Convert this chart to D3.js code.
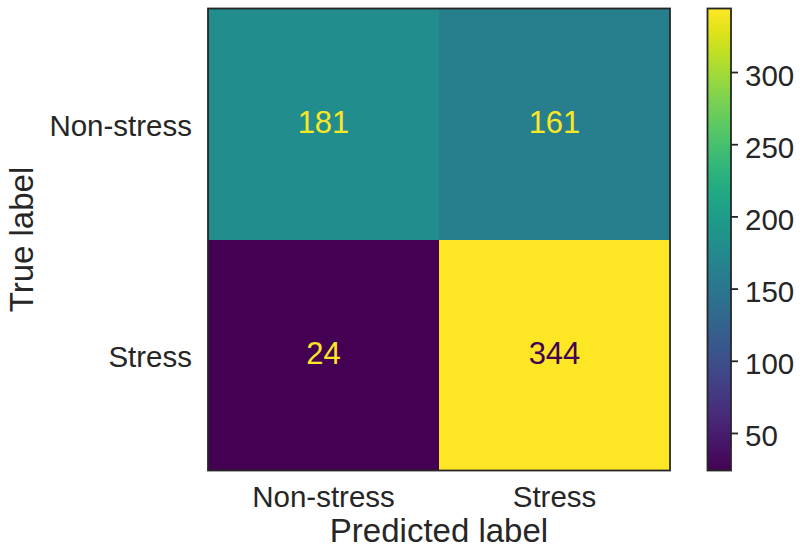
<!DOCTYPE html>
<html>
<head>
<meta charset="utf-8">
<script src="https://cdn.jsdelivr.net/npm/d3@7"></script>
<style>
  html, body { margin: 0; padding: 0; background: #fff; }
  svg { display: block; }
  text { font-family: "Liberation Sans", Arial, sans-serif; fill: #262626; }
</style>
</head>
<body>
<svg id="chart" width="805" height="559"></svg>
<script>
// ---- data ----
const trueLabels = ["Non-stress", "Stress"];
const predLabels = ["Non-stress", "Stress"];
const row0 = [181, 161];
const row1 = [24, 344];
const matrix = [row0, row1];
const colorTicks = [50, 100, 150, 200, 250, 300];
const xTitle = "Predicted label";
const yTitle = "True label";

// ---- layout ----
const svg = d3.select("#chart");
const hm = { x0: 208, x1: 670, y0: 8.5, y1: 470.5 };
const cb = { x0: 707.5, x1: 731, y0: 8.5, y1: 470.5 };
const ink = "#262626";
const ff = '"Liberation Sans", Arial, sans-serif';

const flat = matrix.flat();
const vmin = d3.min(flat), vmax = d3.max(flat);
const color = d3.scaleSequential(d3.interpolateViridis).domain([vmin, vmax]);

const x = d3.scaleBand().domain(predLabels).range([hm.x0, hm.x1]);
const y = d3.scaleBand().domain(trueLabels).range([hm.y0, hm.y1]);

const cells = [];
matrix.forEach((row, i) => row.forEach((v, j) => cells.push({ t: trueLabels[i], p: predLabels[j], v })));

const g = svg.append("g");
g.selectAll("rect.cell").data(cells).enter().append("rect")
  .attr("class", "cell")
  .attr("x", d => x(d.p)).attr("y", d => y(d.t))
  .attr("width", x.bandwidth()).attr("height", y.bandwidth())
  .attr("fill", d => color(d.v))
  .attr("shape-rendering", "crispEdges");

const thresh = (vmin + vmax) / 2;
g.selectAll("text.val").data(cells).enter().append("text")
  .attr("class", "val")
  .attr("x", d => x(d.p) + x.bandwidth() / 2)
  .attr("y", d => y(d.t) + y.bandwidth() / 2)
  .attr("text-anchor", "middle")
  .attr("dy", "0.3em")
  .style("font-size", "31px")
  .style("fill", d => d.v < thresh ? color(vmax) : color(vmin))
  .text(d => d.v);

// frame
g.append("rect")
  .attr("x", hm.x0).attr("y", hm.y0)
  .attr("width", hm.x1 - hm.x0).attr("height", hm.y1 - hm.y0)
  .attr("fill", "none").attr("stroke", ink).attr("stroke-width", 1.8);

// axes
const xAxis = d3.axisBottom(x).tickSize(0).tickPadding(16);
const gx = svg.append("g").attr("transform", `translate(0,${hm.y1})`).call(xAxis);
gx.select(".domain").remove();
gx.selectAll("text").style("font-size", "29.5px").attr("fill", ink).style("font-family", ff);

const yAxis = d3.axisLeft(y).tickSize(0).tickPadding(16);
const gy = svg.append("g").attr("transform", `translate(${hm.x0},0)`).call(yAxis);
gy.select(".domain").remove();
gy.selectAll("text").style("font-size", "29.5px").attr("fill", ink).attr("dy", "0.42em").style("font-family", ff);

svg.append("text")
  .attr("x", (hm.x0 + hm.x1) / 2).attr("y", 541.5)
  .attr("text-anchor", "middle").style("font-size", "33px")
  .text(xTitle);

svg.append("text")
  .attr("transform", `translate(33,${(hm.y0 + hm.y1) / 2}) rotate(-90)`)
  .attr("text-anchor", "middle").style("font-size", "33px")
  .text(yTitle);

// colorbar
const defs = svg.append("defs");
const grad = defs.append("linearGradient").attr("id", "cbgrad")
  .attr("x1", "0").attr("y1", "1").attr("x2", "0").attr("y2", "0");
d3.range(0, 1.0001, 0.05).forEach(t => {
  grad.append("stop").attr("offset", t).attr("stop-color", d3.interpolateViridis(t));
});
svg.append("rect")
  .attr("x", cb.x0).attr("y", cb.y0)
  .attr("width", cb.x1 - cb.x0).attr("height", cb.y1 - cb.y0)
  .attr("fill", "url(#cbgrad)")
  .attr("stroke", ink).attr("stroke-width", 1.8);

const cScale = d3.scaleLinear().domain([vmin, vmax]).range([cb.y1, cb.y0]);
const cAxis = d3.axisRight(cScale).tickValues(colorTicks).tickSize(7).tickPadding(7);
const gc = svg.append("g").attr("transform", `translate(${cb.x1},0)`).call(cAxis);
gc.select(".domain").remove();
gc.selectAll("line").attr("stroke", ink).attr("stroke-width", 1.8);
gc.selectAll("text").style("font-size", "29.5px").attr("fill", ink).attr("dy", "0.44em").style("font-family", ff);
</script>
</body>
</html>
